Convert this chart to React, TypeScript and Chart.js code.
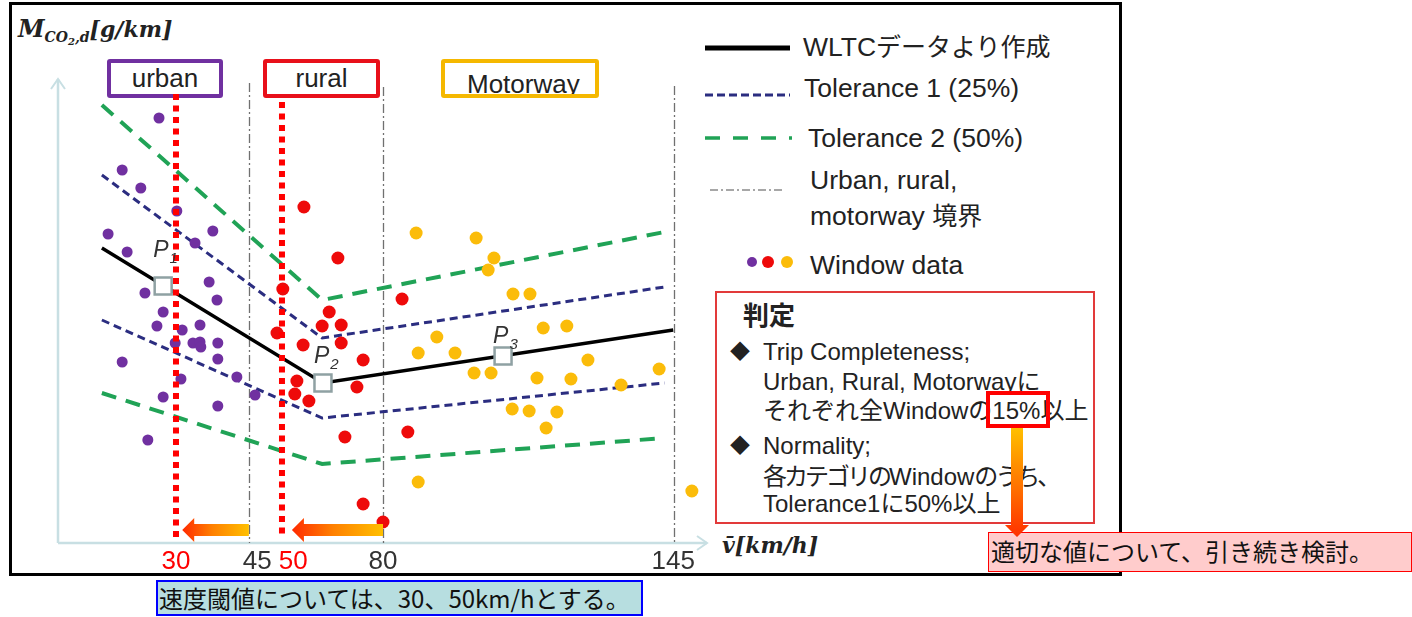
import React, { useEffect, useRef } from "react";
import { Chart, registerables } from "chart.js";

Chart.register(...registerables);

// ---------- data (speed in km/h on the schematic axis, CO2 in g/km) ----------
const wltcSpeed = [12.1, 65.5, 150.1];
const wltcCO2 = [118, 64, 85.2];

const tolSpeed = [12.1, 65.3, 148];
const tol1Upper = [147.2, 82, 102.4];
const tol1Lower = [89.2, 50, 64];
const tol2Upper = [175.2, 97.2, 124.4];
const tol2Lower = [60, 31.6, 42];

const pSpeed = [26.9, 65.5, 109];
const pCO2 = [102.8, 64, 74.8];
const pNames = ["1", "2", "3"];

const urbanSpeed = [25.9, 17.0, 21.5, 30.2, 13.6, 38.9, 34.6, 18.2, 38.0, 22.5, 39.9, 26.9, 25.4, 31.5, 35.8, 34.1, 35.8, 36.0, 29.8, 40.1, 40.1, 17.0, 31.2, 44.7, 49.1, 26.9, 40.1, 23.2];
const urbanCO2 = [170, 149.2, 142, 132.8, 123.6, 124.8, 120, 116.4, 104.4, 100, 97.2, 92.4, 86.8, 85.2, 87.2, 80, 80.4, 78.4, 80, 80, 73.6, 72.4, 65.6, 66.4, 59.2, 58.4, 54.8, 41.2];

const ruralSpeed = [60.9, 69.1, 55.8, 84.6, 67.0, 65.3, 69.9, 54.4, 60.7, 69.9, 75.2, 59.2, 73.7, 58.7, 62.1, 70.8, 86.0, 75.2, 80.0];
const ruralCO2 = [134.4, 114, 101.6, 97.6, 92.4, 86.8, 87.2, 84, 79.2, 80, 73.2, 64.8, 62.4, 59.6, 56.8, 42.4, 44.4, 15.6, 8.4];

const motorwaySpeed = [88.0, 102.5, 106.8, 105.4, 111.4, 115.5, 93.0, 118.7, 124.4, 88.5, 97.4, 129.5, 102.0, 106.1, 117.2, 125.4, 146.7, 137.5, 111.2, 115.3, 122.0, 119.4, 88.5, 154.6];
const motorwayCO2 = [124, 122, 114, 109.2, 99.6, 99.6, 82.4, 86, 86.8, 76, 76, 73.2, 68, 68, 66, 65.6, 69.6, 63.2, 53.6, 52.8, 52.4, 46, 24.4, 20.8];

const boundarySpeed = [47.6, 80, 150.3];
const boundaryTop = [184, 182.4, 182.8];
const thresholdSpeed = [30, 55.6];
const thresholdTop = [179.6, 176.4];
const thresholdBottom = 2;
const arrowFrom = [47.6, 80];
const arrowTo = [31.5, 58];
const arrowLevel = 5.2;

const tickSpeed = [30, 49.6, 58.3, 80, 150.1];
const tickLabels = ["30", "45", "50", "80", "145"];

// ---------- styles ----------
const C_PURPLE = "#7030a0";
const C_RED = "#ee0a0a";
const C_ORANGE = "#fbbc0a";
const C_NAVY = "#2b2d80";
const C_GREEN = "#20a356";
const tickColors = ["#ff0000", "#333333", "#ff0000", "#333333", "#333333"];
const pLabelOffset = [[-10, -29], [-9, -20], [-10, -13]];

const toXY = (xs: number[], ys: number[]) => xs.map((x, i) => ({ x, y: ys[i] }));

const overlayPlugin = {
  id: "overlay",
  beforeDatasetsDraw(chart: any) {
    const ctx = chart.ctx as CanvasRenderingContext2D;
    const xs = chart.scales.x;
    const ys = chart.scales.y;
    const left = chart.chartArea.left;
    const bottom = chart.chartArea.bottom;
    ctx.save();
    // axes
    ctx.strokeStyle = "#c8dfe3";
    ctx.lineWidth = 2.5;
    ctx.beginPath();
    ctx.moveTo(left, bottom);
    ctx.lineTo(left, 79);
    ctx.moveTo(left, bottom);
    ctx.lineTo(707, bottom);
    ctx.stroke();
    ctx.lineWidth = 2;
    ctx.beginPath();
    ctx.moveTo(left - 7, 89);
    ctx.lineTo(left, 79);
    ctx.lineTo(left + 7, 89);
    ctx.moveTo(697, bottom - 7);
    ctx.lineTo(707, bottom);
    ctx.lineTo(697, bottom + 7);
    ctx.stroke();
    // boundaries (dash-dot)
    ctx.strokeStyle = "#707070";
    ctx.lineWidth = 1.3;
    ctx.setLineDash([9, 3, 2, 3]);
    boundarySpeed.forEach((v, i) => {
      const x = Math.round(xs.getPixelForValue(v)) + 0.5;
      ctx.beginPath();
      ctx.moveTo(x, ys.getPixelForValue(boundaryTop[i]));
      ctx.lineTo(x, bottom);
      ctx.stroke();
    });
    ctx.restore();
  },
  afterDatasetsDraw(chart: any) {
    const ctx = chart.ctx as CanvasRenderingContext2D;
    const xs = chart.scales.x;
    const ys = chart.scales.y;
    ctx.save();
    // red dotted thresholds
    ctx.strokeStyle = "#ff0000";
    ctx.lineWidth = 6;
    ctx.setLineDash([6, 5.5]);
    thresholdSpeed.forEach((v, i) => {
      const x = xs.getPixelForValue(v);
      ctx.beginPath();
      ctx.moveTo(x, ys.getPixelForValue(thresholdTop[i]));
      ctx.lineTo(x, ys.getPixelForValue(thresholdBottom));
      ctx.stroke();
    });
    ctx.setLineDash([]);
    // gradient arrows
    const y = ys.getPixelForValue(arrowLevel);
    arrowFrom.forEach((v, i) => {
      const tail = xs.getPixelForValue(v);
      const tip = xs.getPixelForValue(arrowTo[i]);
      const g = ctx.createLinearGradient(tip, 0, tail, 0);
      g.addColorStop(0, "#ff2a00");
      g.addColorStop(0.45, "#ff8000");
      g.addColorStop(1, "#ffc000");
      ctx.fillStyle = g;
      ctx.beginPath();
      ctx.moveTo(tip, y);
      ctx.lineTo(tip + 12, y - 12);
      ctx.lineTo(tip + 12, y - 6);
      ctx.lineTo(tail, y - 6);
      ctx.lineTo(tail, y + 6);
      ctx.lineTo(tip + 12, y + 6);
      ctx.lineTo(tip + 12, y + 12);
      ctx.closePath();
      ctx.fill();
    });
    // P labels
    ctx.fillStyle = "#333333";
    ctx.textAlign = "left";
    ctx.textBaseline = "alphabetic";
    pSpeed.forEach((v, i) => {
      const x = xs.getPixelForValue(v) + pLabelOffset[i][0];
      const yy = ys.getPixelForValue(pCO2[i]) + pLabelOffset[i][1];
      ctx.font = 'italic 23px "Liberation Sans", Arial, sans-serif';
      ctx.fillText("P", x, yy);
      const w = ctx.measureText("P").width;
      ctx.font = 'italic 15px "Liberation Sans", Arial, sans-serif';
      ctx.fillText(pNames[i], x + w + 1, yy + 6);
    });
    ctx.restore();
  },
  afterDraw(chart: any) {
    const ctx = chart.ctx as CanvasRenderingContext2D;
    const xs = chart.scales.x;
    ctx.save();
    // tick labels
    ctx.font = '26px "Liberation Sans", Arial, sans-serif';
    ctx.textAlign = "center";
    ctx.textBaseline = "alphabetic";
    tickSpeed.forEach((v, i) => {
      ctx.fillStyle = tickColors[i];
      ctx.fillText(tickLabels[i], xs.getPixelForValue(v), 569);
    });
    // legend samples
    ctx.lineCap = "butt";
    ctx.strokeStyle = "#000";
    ctx.lineWidth = 5;
    ctx.beginPath(); ctx.moveTo(705, 48); ctx.lineTo(790, 48); ctx.stroke();
    ctx.strokeStyle = C_NAVY;
    ctx.lineWidth = 3;
    ctx.setLineDash([8, 4]);
    ctx.beginPath(); ctx.moveTo(705, 95); ctx.lineTo(790, 95); ctx.stroke();
    ctx.strokeStyle = C_GREEN;
    ctx.lineWidth = 3.5;
    ctx.setLineDash([15, 13]);
    ctx.beginPath(); ctx.moveTo(705, 138); ctx.lineTo(792, 138); ctx.stroke();
    ctx.strokeStyle = "#8a8a8a";
    ctx.lineWidth = 1.5;
    ctx.setLineDash([8, 3, 2, 3]);
    ctx.beginPath(); ctx.moveTo(710, 190); ctx.lineTo(783, 190); ctx.stroke();
    ctx.setLineDash([]);
    const dots: [number, number, string][] = [[752, 5, C_PURPLE], [768, 6, C_RED], [787, 6, C_ORANGE]];
    dots.forEach(([x, r, c]) => {
      ctx.fillStyle = c;
      ctx.beginPath(); ctx.arc(x, 262, r, 0, Math.PI * 2); ctx.fill();
    });
    // vertical gradient arrow from 15%
    const g = ctx.createLinearGradient(0, 428, 0, 537);
    g.addColorStop(0, "#ffc000");
    g.addColorStop(1, "#ff3000");
    ctx.fillStyle = g;
    ctx.beginPath();
    ctx.moveTo(1011, 428);
    ctx.lineTo(1023, 428);
    ctx.lineTo(1023, 525);
    ctx.lineTo(1029, 525);
    ctx.lineTo(1017, 537);
    ctx.lineTo(1005, 525);
    ctx.lineTo(1011, 525);
    ctx.closePath();
    ctx.fill();
    ctx.restore();
  },
};

const sans = '"Liberation Sans", Arial, "Noto Sans CJK JP", sans-serif';
const cjk = '"Noto Sans CJK JP", "Liberation Sans", sans-serif';
const serifMath = '"DejaVu Serif", "Liberation Serif", serif';

const abs = (left: number, top: number, extra: React.CSSProperties = {}): React.CSSProperties => ({
  position: "absolute",
  left,
  top,
  whiteSpace: "nowrap",
  ...extra,
});

const J = ({ children }: { children: React.ReactNode }) => (
  <span style={{ letterSpacing: "-3px" }}>{children}</span>
);

export default function App() {
  const ref = useRef<HTMLCanvasElement>(null);

  useEffect(() => {
    if (!ref.current) return;
    const lineDs = (data: any, color: string, width: number, dash: number[], order: number) => ({
      data,
      showLine: true,
      borderColor: color,
      borderWidth: width,
      borderDash: dash,
      pointRadius: 0,
      fill: false,
      tension: 0,
      order,
      clip: false as any,
    });
    const dotDs = (data: any, color: string, r: number) => ({
      data,
      showLine: false,
      backgroundColor: color,
      borderColor: color,
      borderWidth: 0,
      pointRadius: r,
      order: 2,
      clip: false as any,
    });
    const chart = new Chart(ref.current, {
      type: "scatter",
      data: {
        datasets: [
          lineDs(toXY(tolSpeed, tol2Upper), C_GREEN, 4, [15, 10], 7),
          lineDs(toXY(tolSpeed, tol2Lower), C_GREEN, 4, [15, 10], 7),
          lineDs(toXY(tolSpeed, tol1Upper), C_NAVY, 3, [8, 5], 6),
          lineDs(toXY(tolSpeed, tol1Lower), C_NAVY, 3, [8, 5], 6),
          lineDs(toXY(wltcSpeed, wltcCO2), "#000000", 3.5, [], 5),
          dotDs(toXY(urbanSpeed, urbanCO2), C_PURPLE, 5.5),
          dotDs(toXY(ruralSpeed, ruralCO2), C_RED, 6.5),
          dotDs(toXY(motorwaySpeed, motorwayCO2), C_ORANGE, 6.5),
          {
            data: toXY(pSpeed, pCO2),
            showLine: false,
            pointStyle: "rect",
            pointRadius: 12,
            backgroundColor: "#ffffff",
            borderColor: "#8fa1a3",
            borderWidth: 2.5,
            order: 1,
            clip: false as any,
          },
        ] as any,
      },
      options: {
        animation: false,
        responsive: false,
        devicePixelRatio: 1,
        events: [],
        layout: { padding: { left: 58, right: 704, top: 43, bottom: 74 } },
        plugins: { legend: { display: false }, tooltip: { enabled: false } },
        scales: {
          x: { type: "linear", min: 1.5, max: 158.5, display: false },
          y: { type: "linear", min: 0, max: 200, display: false },
        },
      },
      plugins: [overlayPlugin as any],
    });
    return () => chart.destroy();
  }, []);

  const legendText: React.CSSProperties = { fontFamily: sans, fontSize: 26.5, lineHeight: "30px", color: "#222" };
  const judgeText: React.CSSProperties = { fontFamily: sans, fontSize: 24, lineHeight: "30px", color: "#222" };
  const labelBox = (left: number, width: number, color: string): React.CSSProperties => ({
    position: "absolute",
    left,
    top: 59,
    width,
    height: 39,
    boxSizing: "border-box",
    border: `4px solid ${color}`,
    borderRadius: 3,
    background: "#fff",
    overflow: "hidden",
    fontFamily: sans,
    fontSize: 26,
    lineHeight: "26px",
    color: "#222",
  });

  return (
    <div style={{ position: "absolute", left: 0, top: 0, width: 1412, height: 617, overflow: "hidden", background: "#ffffff" }}>
      {/* outer frame */}
      <div style={{ position: "absolute", left: 9, top: 2, width: 1113, height: 574, boxSizing: "border-box", border: "3px solid #000" }} />

      {/* axis titles */}
      <div style={abs(18, 16, { fontFamily: serifMath, fontStyle: "italic", fontWeight: "bold", fontSize: 22, lineHeight: "26px", color: "#222" })}>
        <span style={{ fontSize: 24 }}>M</span>
        <span style={{ fontSize: 14, verticalAlign: "-5px" }}>
          CO<span style={{ fontSize: 10, verticalAlign: "-3px" }}>2</span>,d
        </span>
        [g/km]
      </div>
      <div style={abs(722, 532, { fontFamily: serifMath, fontStyle: "italic", fontWeight: "bold", fontSize: 22, lineHeight: "26px", color: "#222" })}>
        {"v\u0304[km/h]"}
      </div>

      {/* region label boxes */}
      <div style={{ ...labelBox(107, 116, C_PURPLE), textAlign: "center", paddingTop: 2 }}>urban</div>
      <div style={{ ...labelBox(263, 117, "#e8101a"), textAlign: "center", paddingTop: 2 }}>rural</div>
      <div style={{ ...labelBox(441, 158, "#f5b800"), paddingTop: 8, paddingLeft: 22 }}>Motorway</div>

      {/* legend */}
      <div style={abs(803, 30, legendText)}>
        WLTC<span style={{ fontFamily: cjk, fontSize: 25 }}>データより作成</span>
      </div>
      <div style={abs(804, 73, legendText)}>Tolerance 1 (25%)</div>
      <div style={abs(808, 123, legendText)}>Tolerance 2 (50%)</div>
      <div style={abs(810, 165, legendText)}>Urban, rural,</div>
      <div style={abs(810, 199, legendText)}>
        motorway <span style={{ fontFamily: cjk, fontSize: 25 }}>境界</span>
      </div>
      <div style={abs(810, 250, legendText)}>Window data</div>

      {/* judgement box */}
      <div style={{ position: "absolute", left: 715, top: 291, width: 380, height: 233, boxSizing: "border-box", border: "2px solid #e23a3a", background: "#fff" }} />
      <div style={abs(743, 299, { fontFamily: cjk, fontWeight: "bold", fontSize: 26, lineHeight: "30px", color: "#222" })}>判定</div>
      <div style={abs(730, 337, { ...judgeText, fontSize: 20 })}>◆</div>
      <div style={abs(763, 337, judgeText)}>Trip Completeness;</div>
      <div style={abs(763, 367, judgeText)}>Urban, Rural, Motorwayに</div>
      <div style={abs(763, 396, judgeText)}>それぞれ全Windowの15%以上</div>
      <div style={abs(730, 431, { ...judgeText, fontSize: 20 })}>◆</div>
      <div style={abs(763, 431, judgeText)}>Normality;</div>
      <div style={abs(763, 462, judgeText)}>
        <J>各カテゴリの</J>Window<J>のうち、</J>
      </div>
      <div style={abs(763, 489, judgeText)}>Tolerance1に50%以上</div>
      <div style={{ position: "absolute", left: 986, top: 391, width: 64, height: 37, boxSizing: "border-box", border: "4px solid #ff0000" }} />

      {/* pink note */}
      <div style={{ position: "absolute", left: 988, top: 532, width: 424, height: 40, boxSizing: "border-box", border: "1px solid #ff0000", background: "#ffcccc", fontFamily: cjk, fontSize: 24, lineHeight: "36px", color: "#111", paddingLeft: 2, whiteSpace: "nowrap" }}>
        適切な値について、引き続き検討。
      </div>

      {/* blue note */}
      <div style={{ position: "absolute", left: 156, top: 580, width: 487, height: 36, boxSizing: "border-box", border: "2px solid #0000ff", background: "#b7dee0", fontFamily: cjk, fontSize: 24, lineHeight: "32px", color: "#111", paddingLeft: 1, whiteSpace: "nowrap" }}>
        速度閾値については、30、50km/hとする。
      </div>

      <canvas
        ref={ref}
        width={1412}
        height={617}
        style={{ position: "absolute", left: 0, top: 0, width: 1412, height: 617, zIndex: 2, pointerEvents: "none" }}
      />
    </div>
  );
}
